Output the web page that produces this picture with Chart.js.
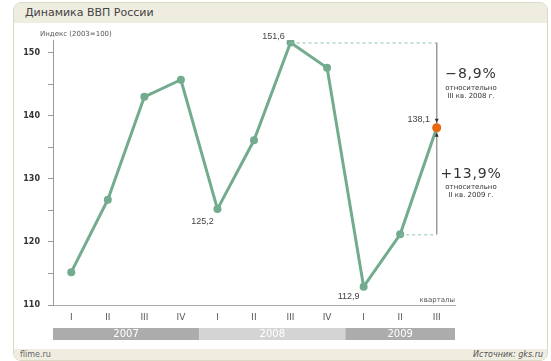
<!DOCTYPE html>
<html>
<head>
<meta charset="utf-8">
<script src="https://cdn.jsdelivr.net/npm/chart.js@4"></script>
<style>
    body { margin: 0; width: 551px; height: 361px; background: #fff; overflow: hidden; font-family: "DejaVu Sans", sans-serif; }
    #panel { position: absolute; left: 13px; top: 2px; width: 533px; height: 357px; border: 1px solid #dcd8c6; border-radius: 8px; overflow: hidden; background: #fff; }
    #title { position: absolute; left: 0; top: 0; right: 0; height: 20px; background: #efece0; color: #444; font-size: 11px; line-height: 20px; padding-left: 11px; }
    #footer { position: absolute; left: 0; bottom: 0; right: 0; height: 11px; background: #efece0; color: #666; font-size: 8px; line-height: 11px; }
    #footer .l { position: absolute; left: 6px; }
    #footer .r { position: absolute; right: 4px; font-style: italic; color: #555; }
    #chart { position: absolute; left: 0; top: 0; }
</style>
</head>
<body>
<div id="panel">
    <div id="title">Динамика ВВП России</div>
    <div id="footer"><span class="l">flime.ru</span><span class="r">Источник: gks.ru</span></div>
</div>
<canvas id="chart" width="551" height="361"></canvas>
<script>
const quarters = ["I", "II", "III", "IV", "I", "II", "III", "IV", "I", "II", "III"];
const gdpIndex = [115.2, 126.7, 143.0, 145.7, 125.2, 136.1, 151.6, 147.6, 112.9, 121.2, 138.1];
const years = ["2007", "2008", "2009"];
const yearQuarters = [4, 4, 3];
const pointLabels = [
    { index: 4, text: "125,2", dx: -15, dy: 12 },
    { index: 6, text: "151,6", dx: -17, dy: -6 },
    { index: 8, text: "112,9", dx: -15, dy: 10 },
    { index: 10, text: "138,1", dx: -18, dy: -8 }
];
const peakIndex = 6;
const prevIndex = 9;
const lastIndex = 10;

const green = "#72ab8d";
const orange = "#e8690f";

const extras = {
    id: "extras",
    afterDraw(chart) {
        const ctx = chart.ctx;
        const x = chart.scales.x;
        const y = chart.scales.y;
        const area = chart.chartArea;
        const half = (x.getPixelForValue(1) - x.getPixelForValue(0)) / 2;

        // year bands
        let start = 0;
        years.forEach((yr, i) => {
            const x0 = x.getPixelForValue(start) - half;
            const x1 = x.getPixelForValue(start + yearQuarters[i] - 1) + half;
            ctx.fillStyle = i % 2 === 0 ? "#acacac" : "#d4d4d4";
            ctx.fillRect(x0, 328, x1 - x0, 12);
            ctx.fillStyle = "#fff";
            ctx.font = "10px 'DejaVu Sans'";
            ctx.textAlign = "center";
            ctx.textBaseline = "middle";
            ctx.fillText(yr, (x0 + x1) / 2, 334.5);
            start += yearQuarters[i];
        });

        // axis captions
        ctx.fillStyle = "#555";
        ctx.font = "7px 'DejaVu Sans'";
        ctx.textAlign = "left";
        ctx.fillText("Индекс (2003=100)", 40, 34);
        ctx.textAlign = "right";
        ctx.fillText("кварталы", area.right, 300);

        // comparison guides
        const xPeak = x.getPixelForValue(peakIndex);
        const xPrev = x.getPixelForValue(prevIndex);
        const xLast = x.getPixelForValue(lastIndex);
        const yPeak = y.getPixelForValue(gdpIndex[peakIndex]);
        const yPrev = y.getPixelForValue(gdpIndex[prevIndex]);
        const yLast = y.getPixelForValue(gdpIndex[lastIndex]);
        ctx.save();
        ctx.strokeStyle = "#8cc2a6";
        ctx.lineWidth = 1;
        ctx.setLineDash([3, 3]);
        ctx.beginPath();
        ctx.moveTo(xPeak, yPeak + 0.5);
        ctx.lineTo(xLast, yPeak + 0.5);
        ctx.moveTo(xPrev, yPrev + 0.5);
        ctx.lineTo(xLast, yPrev + 0.5);
        ctx.stroke();
        ctx.setLineDash([]);
        ctx.strokeStyle = "#9a9a9a";
        ctx.lineWidth = 1.5;
        ctx.beginPath();
        ctx.moveTo(xLast, yPeak);
        ctx.lineTo(xLast, yPrev);
        ctx.stroke();
        ctx.fillStyle = "#333";
        ctx.beginPath();
        ctx.moveTo(xLast - 2, yLast - 9);
        ctx.lineTo(xLast + 2, yLast - 9);
        ctx.lineTo(xLast, yLast - 5);
        ctx.closePath();
        ctx.moveTo(xLast - 2, yLast + 9);
        ctx.lineTo(xLast + 2, yLast + 9);
        ctx.lineTo(xLast, yLast + 5);
        ctx.closePath();
        ctx.fill();
        ctx.restore();

        // redraw last point on top of guide
        ctx.fillStyle = orange;
        ctx.beginPath();
        ctx.arc(xLast, yLast, 4.5, 0, Math.PI * 2);
        ctx.fill();

        // change notes
        ctx.fillStyle = "#333";
        ctx.textAlign = "center";
        ctx.textBaseline = "middle";
        ctx.letterSpacing = "0.8px";
        ctx.font = "14px 'DejaVu Sans'";
        ctx.fillText("−8,9%", 471, 74);
        ctx.fillText("+13,9%", 471, 174);
        ctx.letterSpacing = "0px";
        ctx.font = "7px 'DejaVu Sans'";
        ctx.fillText("относительно", 471, 88);
        ctx.fillText("III кв. 2008 г.", 471, 96);
        ctx.fillText("относительно", 471, 187);
        ctx.fillText("II кв. 2009 г.", 471, 195);

        // value labels
        ctx.fillStyle = "#444";
        ctx.font = "9px 'Liberation Sans'";
        pointLabels.forEach(p => {
            const px = x.getPixelForValue(p.index);
            const py = y.getPixelForValue(gdpIndex[p.index]);
            ctx.fillText(p.text, px + p.dx, py + p.dy);
        });
    }
};

new Chart(document.getElementById("chart"), {
    type: "line",
    data: {
        labels: quarters,
        datasets: [{
            data: gdpIndex,
            borderColor: green,
            borderWidth: 3,
            pointRadius: 4,
            pointHoverRadius: 4,
            pointBorderWidth: 0,
            pointBackgroundColor: gdpIndex.map((_, i) => i === lastIndex ? orange : green),
            tension: 0
        }]
    },
    options: {
        responsive: false,
        animation: false,
        events: [],
        layout: { padding: { top: 40, right: 96, left: 0, bottom: 0 } },
        plugins: { legend: { display: false }, tooltip: { enabled: false } },
        scales: {
            x: {
                offset: true,
                afterFit(scale) { scale.height = 56; },
                grid: { display: true, drawOnChartArea: false, drawTicks: false },
                border: { color: "#aaa", width: 1 },
                ticks: { color: "#555", font: { family: "DejaVu Sans", size: 9 }, padding: 7 }
            },
            y: {
                min: 110,
                max: 152,
                afterFit(scale) { scale.width = 53; },
                grid: { display: true, drawOnChartArea: false, tickLength: 5, color: "#999" },
                border: { color: "#999", width: 1 },
                ticks: {
                    stepSize: 5,
                    includeBounds: false,
                    autoSkip: false,
                    color: "#333",
                    padding: 8,
                    font: { family: "DejaVu Sans", size: 8, weight: "bold" },
                    callback: v => v % 10 === 0 ? v : ""
                }
            }
        }
    },
    plugins: [extras]
});
</script>
</body>
</html>
